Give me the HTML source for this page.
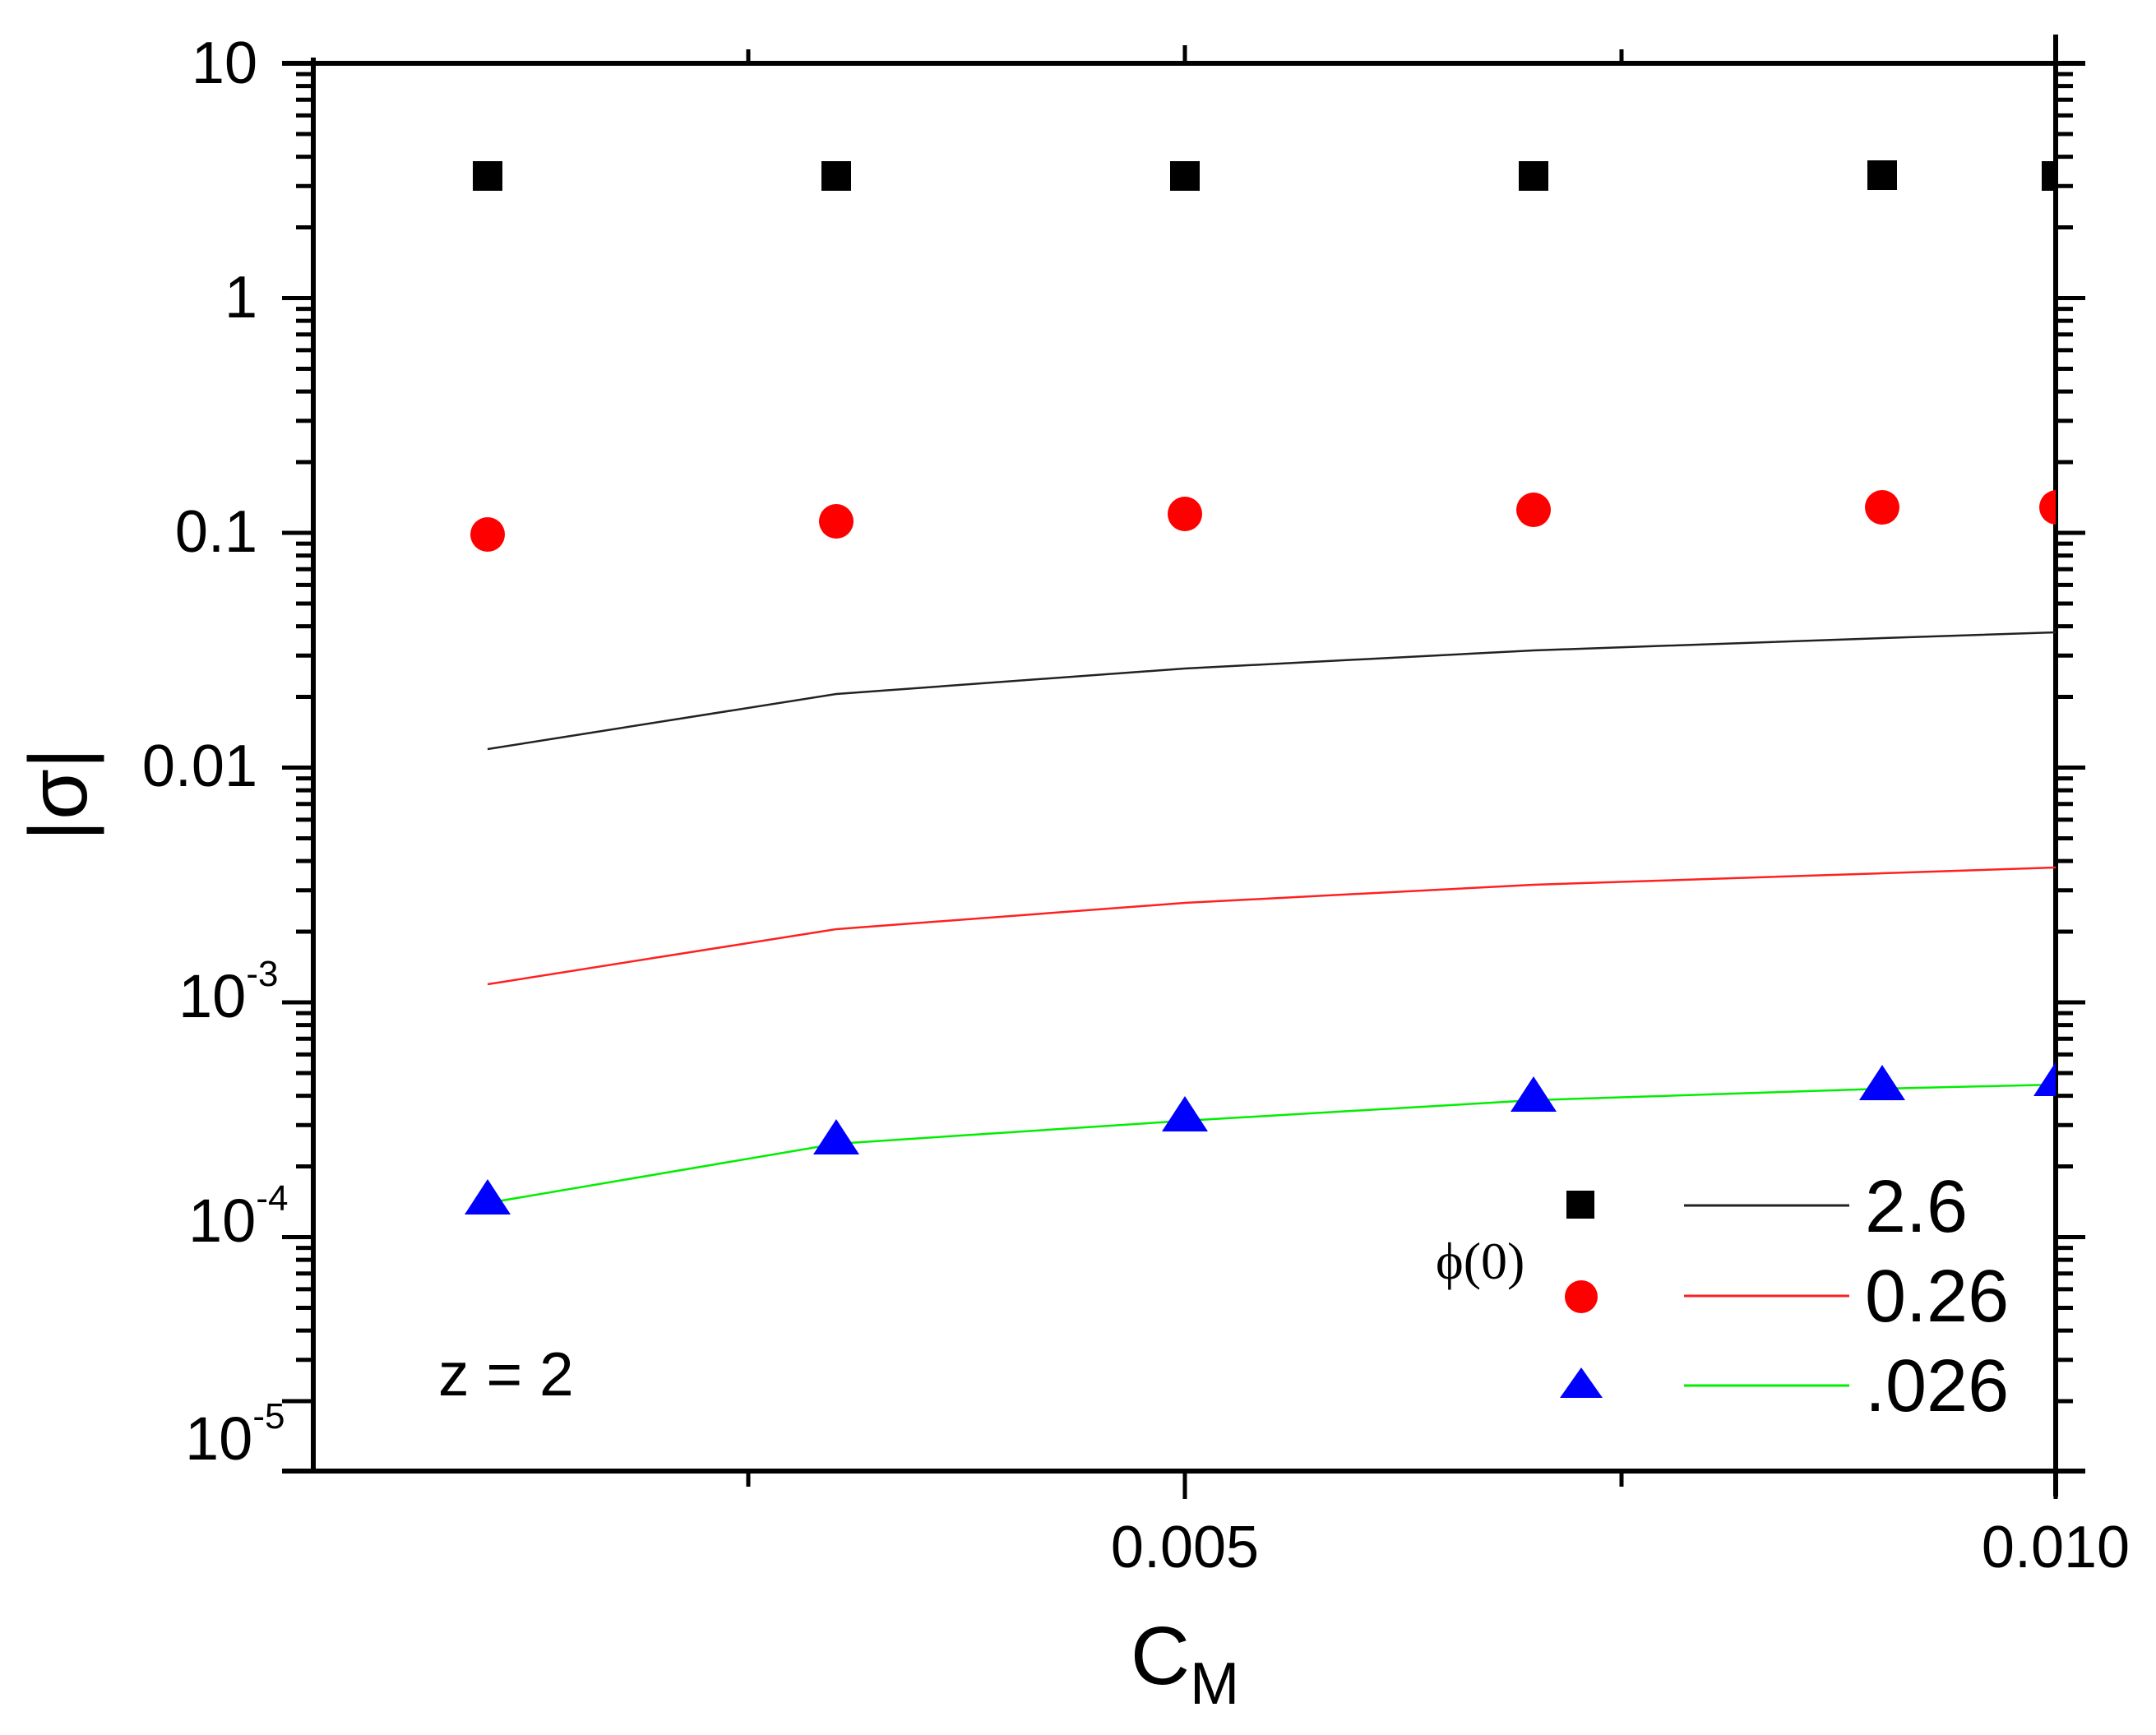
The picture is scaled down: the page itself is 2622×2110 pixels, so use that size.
<!DOCTYPE html>
<html><head><meta charset="utf-8"><style>
html,body{margin:0;padding:0;background:#fff;}
svg{display:block;}
text{font-family:"Liberation Sans",sans-serif;fill:#000;}
</style></head><body>
<svg id="s" width="2622" height="2110" viewBox="0 0 2622 2110" xmlns="http://www.w3.org/2000/svg">
<defs><clipPath id="c"><rect x="381" y="40" width="2119" height="1750"/></clipPath></defs>
<g id="ticks" stroke="#000" stroke-width="5"></g>
<g stroke="#000" stroke-width="6" fill="none">
<line x1="343" y1="77" x2="2536" y2="77"/>
<line x1="343" y1="1789" x2="2536" y2="1789"/>
<line x1="381" y1="70" x2="381" y2="1792"/>
<line x1="2500" y1="42" x2="2500" y2="1820"/>
</g>
<g fill="none" stroke-width="2.5" clip-path="url(#c)">
<polyline stroke="#222" points="593,911 1017,844 1441,813 1865,791 2289,776 2501,769"/>
<polyline stroke="#ff2020" points="593,1197 1017,1130 1441,1098 1865,1076 2289,1062 2501,1055"/>
<polyline stroke="#00ee00" points="593,1463 1017,1391 1441,1363 1865,1338 2289,1324 2501,1319"/>
</g>
<g clip-path="url(#c)">
<g fill="#000">
<rect x="575" y="196" width="36" height="36"/><rect x="999" y="196" width="36" height="36"/>
<rect x="1423" y="196" width="36" height="36"/><rect x="1847" y="196" width="36" height="36"/>
<rect x="2271" y="195" width="36" height="36"/><rect x="2483" y="196" width="36" height="36"/>
</g>
<g fill="#ff0000">
<circle cx="593" cy="650" r="21"/><circle cx="1017" cy="634" r="21"/><circle cx="1441" cy="625" r="21"/>
<circle cx="1865" cy="620" r="21"/><circle cx="2289" cy="617" r="21"/><circle cx="2501" cy="617" r="21"/>
</g>
<g fill="#0000ff" id="tri"></g>
</g>
<g font-size="72" text-anchor="end">
<text x="313" y="101">10</text>
<text x="313" y="386">1</text>
<text x="313" y="671">0.1</text>
<text x="313" y="956">0.01</text>
</g>
<g font-size="74">
<text x="217" y="1237">10<tspan font-size="44" dy="-38">-3</tspan></text>
<text x="229" y="1510">10<tspan font-size="44" dy="-38">-4</tspan></text>
<text x="225" y="1775">10<tspan font-size="44" dy="-38">-5</tspan></text>
</g>
<g font-size="72" text-anchor="middle">
<text x="1441" y="1906">0.005</text>
<text x="2500" y="1906">0.010</text>
</g>
<text x="1441" y="2048" font-size="100" text-anchor="middle">C<tspan font-size="72" dy="24">M</tspan></text>
<text transform="translate(105,966) rotate(-90)" font-size="100" text-anchor="middle">|σ|</text>
<text x="533" y="1697" font-size="75">z = 2</text>
<rect x="1905" y="1448" width="34" height="34" fill="#000"/>
<circle cx="1923" cy="1577" r="20" fill="#ff0000"/>
<polygon points="1923,1663 1897,1700 1949,1700" fill="#0000ff"/>
<g stroke-width="3">
<line x1="2048" y1="1466" x2="2249" y2="1466" stroke="#222"/>
<line x1="2048" y1="1576" x2="2249" y2="1576" stroke="#ff2020"/>
<line x1="2048" y1="1685" x2="2249" y2="1685" stroke="#00ee00"/>
</g>
<g font-size="90">
<text x="2268" y="1498">2.6</text>
<text x="2268" y="1607">0.26</text>
<text x="2268" y="1716">.026</text>
</g>
<text x="1746" y="1555" font-size="64" style="font-family:'Liberation Serif',serif">ϕ(0)</text>
</svg>
<script>
(function(){
var ns="http://www.w3.org/2000/svg",t=document.getElementById('ticks');
function L(x1,y1,x2,y2){var l=document.createElementNS(ns,'line');l.setAttribute('x1',x1);l.setAttribute('y1',y1);l.setAttribute('x2',x2);l.setAttribute('y2',y2);t.appendChild(l);}
var top=77,d=285.5;
function Y(v){return top-(Math.log10(v)-1)*d;}
for(var e=1;e>=-5;e--){
  var y=Y(Math.pow(10,e));
  if(y<1789){L(343,y,381,y);L(2500,y,2536,y);}
  for(var m=2;m<=9;m++){var yy=Y(m*Math.pow(10,e-1));if(yy<1789&&yy>top){L(360,yy,381,yy);L(2500,yy,2521,yy);}}
}
L(343,1704,381,1704);
L(910,60,910,77);L(1441,55,1441,77);L(1972,60,1972,77);
L(910,1789,910,1808);L(1441,1789,1441,1823);L(1972,1789,1972,1808);L(2500,1789,2500,1823);
var tri=document.getElementById('tri');
[[593,1460],[1017,1387],[1441,1359],[1865,1335],[2289,1321],[2501,1316]].forEach(function(p){
 var g=document.createElementNS(ns,'polygon');
 g.setAttribute('points',p[0]+','+(p[1]-26)+' '+(p[0]-28)+','+(p[1]+17)+' '+(p[0]+28)+','+(p[1]+17));tri.appendChild(g);});
})();
</script>
</body></html>
